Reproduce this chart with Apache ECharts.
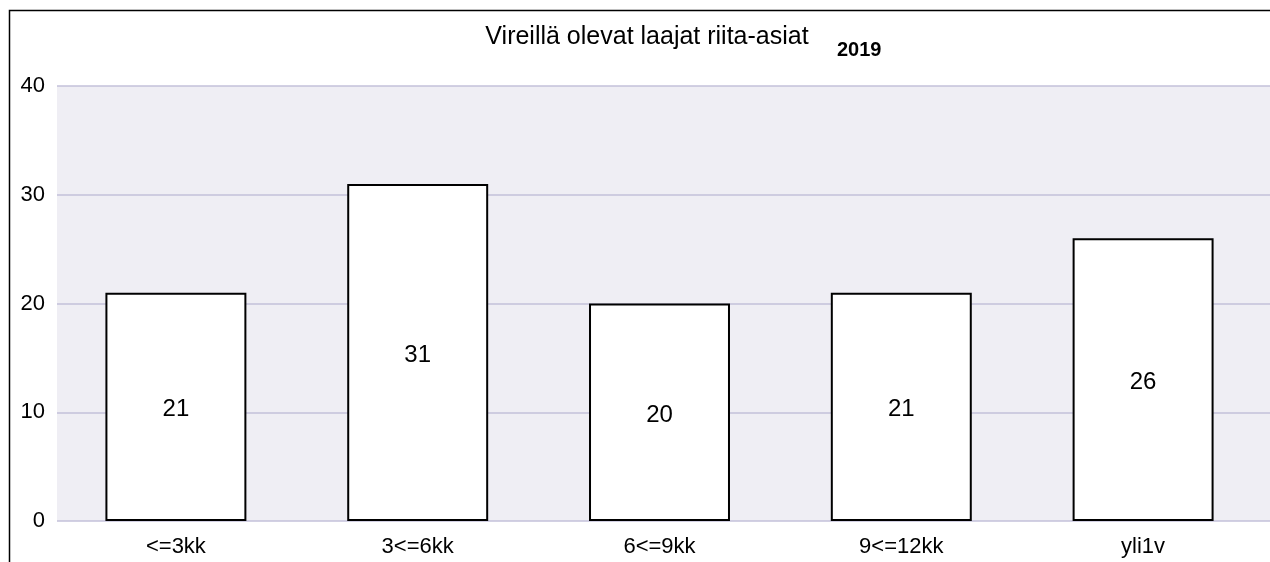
<!DOCTYPE html>
<html>
<head>
<meta charset="utf-8">
<script src="https://cdn.jsdelivr.net/npm/echarts@6/dist/echarts.min.js"></script>
<style>
  html, body { margin: 0; padding: 0; background: #fff; }
  #chart { width: 1270px; height: 562px; }
</style>
</head>
<body>
<div id="chart"></div>
<script>
// data
var categories = ["<=3kk", "3<=6kk", "6<=9kk", "9<=12kk", "yli1v"];
var values = [21, 31, 20, 21, 26];
var yTicks = [0, 10, 20, 30, 40];

var font = "Liberation Sans, Arial, sans-serif";
var myChart = echarts.init(document.getElementById("chart"));

var option = {
  animation: false,
  textStyle: { fontFamily: font },
  title: [
    {
      text: "Vireillä olevat laajat riita-asiat",
      left: 642,
      textAlign: "center",
      top: 20,
      textStyle: { fontSize: 25, fontWeight: "normal", color: "#000", fontFamily: font }
    },
    {
      text: "2019",
      left: 832,
      top: 35,
      textStyle: { fontSize: 20, fontWeight: "bold", color: "#000", fontFamily: font }
    }
  ],
  // frame line at left and top
  graphic: [
    {
      type: "polyline",
      shape: { points: [[9.5, 570], [9.5, 10.5], [1280, 10.5]] },
      style: { stroke: "#000", lineWidth: 1.5, fill: null },
      silent: true
    }
  ],
  grid: [
    // background + split lines, reaching the right edge
    { left: 57, right: 0, top: 86, bottom: 41, show: true, backgroundColor: "#efeef4", borderWidth: 0 },
    // bars
    { left: 55, right: 6, top: 86, bottom: 41 }
  ],
  xAxis: [
    {
      gridIndex: 0,
      type: "category",
      data: categories,
      show: false
    },
    {
      gridIndex: 1,
      type: "category",
      data: categories,
      axisLine: { show: false },
      axisTick: { show: false },
      axisLabel: { color: "#000", fontSize: 22, margin: 15, fontFamily: font }
    }
  ],
  yAxis: [
    {
      gridIndex: 0,
      type: "value",
      min: yTicks[0],
      max: yTicks[yTicks.length - 1],
      interval: 10,
      axisLine: { show: false },
      axisTick: { show: false },
      axisLabel: { color: "#000", fontSize: 22, margin: 12, fontFamily: font },
      splitLine: { show: true, lineStyle: { color: "#c3c1da", width: 1.5 } }
    },
    {
      gridIndex: 1,
      type: "value",
      min: yTicks[0],
      max: yTicks[yTicks.length - 1],
      interval: 10,
      show: false,
      splitLine: { show: false }
    }
  ],
  series: [
    {
      type: "bar",
      xAxisIndex: 1,
      yAxisIndex: 1,
      data: values,
      barCategoryGap: "41.7%",
      itemStyle: { color: "#fff", borderColor: "#000", borderWidth: 2 },
      label: {
        show: true,
        position: "inside",
        offset: [0, 3],
        color: "#000",
        fontSize: 24,
        fontFamily: font
      }
    }
  ]
};

myChart.setOption(option);
</script>
</body>
</html>
